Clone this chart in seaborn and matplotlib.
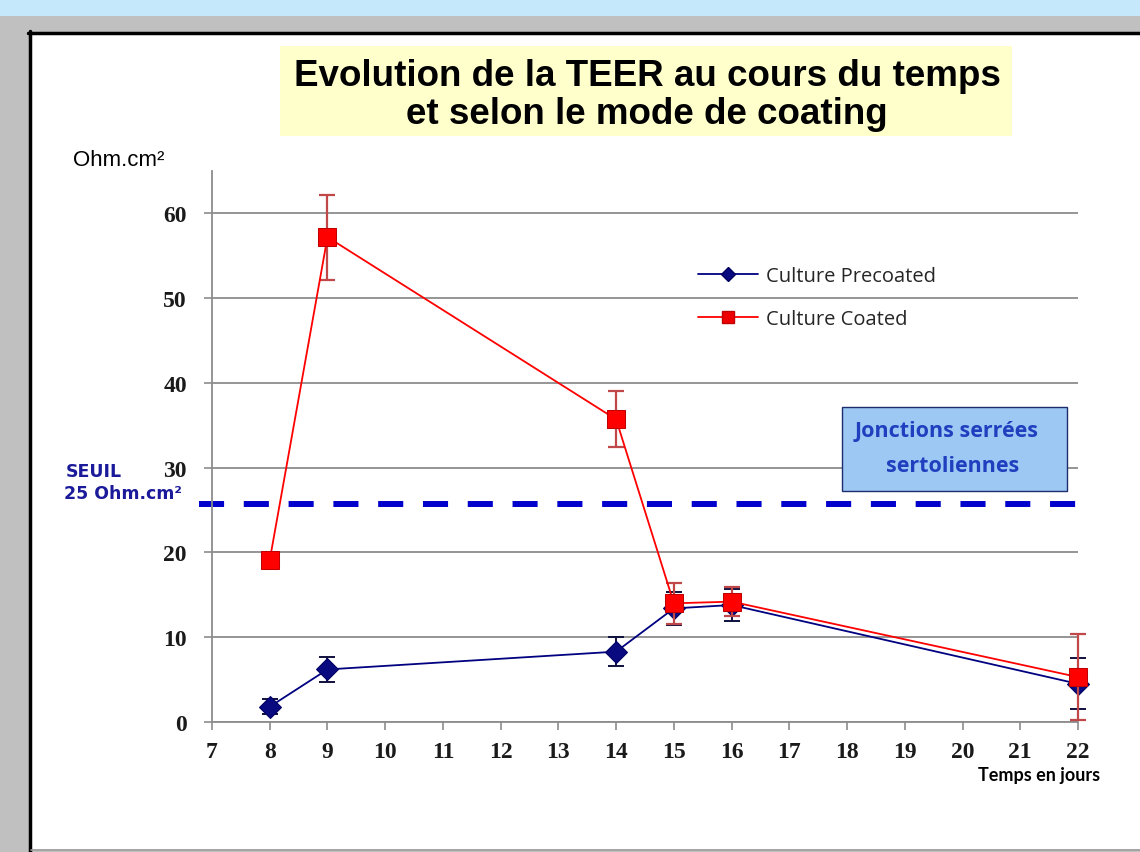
import matplotlib
matplotlib.use("Agg")
import matplotlib.pyplot as plt
from matplotlib.patches import Rectangle
from matplotlib.lines import Line2D
import seaborn as sns
import pandas as pd

# Data (TEER in Ohm.cm2 per day)
days = [8, 9, 14, 15, 16, 22]
precoated = [1.8, 6.2, 8.3, 13.4, 13.8, 4.5]
precoated_err = [0.9, 1.5, 1.7, 1.9, 1.9, 3.0]
coated = [19.1, 57.2, 35.7, 14.0, 14.2, 5.3]
coated_err = [0.0, 5.0, 3.3, 2.4, 1.7, 5.1]
seuil = 25.7
x_ticks = list(range(7, 23))
y_ticks = [0, 10, 20, 30, 40, 50, 60]
series_names = ["Culture Precoated", "Culture Coated"]

W, H = 1140, 853


def fx(px):
    return px / W


def fy(py):
    return 1 - py / H


sns.set_style("white")
plt.rcParams["font.family"] = ["Liberation Sans", "DejaVu Sans"]

fig = plt.figure(figsize=(W / 100, H / 100), dpi=100, facecolor="#c0c0c0")

# Slide background: light blue band, white panel with black border
fig.patches.append(Rectangle((0, fy(17)), 1, 17 / H, transform=fig.transFigure,
                             facecolor="#c6e8fb", edgecolor="none", zorder=-3))
fig.patches.append(Rectangle((fx(29), fy(850)), 1, (850 - 33) / H, transform=fig.transFigure,
                             facecolor="white", edgecolor="none", zorder=-3))
fig.lines.append(Line2D([fx(29.5), fx(29.5)], [fy(32), fy(853)], transform=fig.transFigure,
                        color="black", lw=2.5, zorder=-2))
fig.lines.append(Line2D([fx(28), 1], [fy(33.5), fy(33.5)], transform=fig.transFigure,
                        color="black", lw=2.5, zorder=-2))
fig.lines.append(Line2D([fx(31), 1], [fy(850.5), fy(850.5)], transform=fig.transFigure,
                        color="#a0a0a0", lw=1.2, zorder=-2))

# Title box
fig.patches.append(Rectangle((fx(280), fy(137)), fx(1012 - 280), (137 - 47) / H,
                             transform=fig.transFigure, facecolor="#ffffcc",
                             edgecolor="none", zorder=-2))
fig.text(fx(647), fy(76), "Evolution de la TEER au cours du temps", ha="center", va="center",
         fontsize=26.5, fontweight="bold", color="black", zorder=2)
fig.text(fx(647), fy(114), "et selon le mode de coating", ha="center", va="center",
         fontsize=26.5, fontweight="bold", color="black", zorder=2)

ax = fig.add_axes([fx(212), fy(723), fx(1078 - 212), (723 - 172) / H])
ax.set_facecolor("none")
ax.set_zorder(1)

df = pd.DataFrame({
    "jour": days * 2,
    "teer": precoated + coated,
    "serie": [series_names[0]] * len(days) + [series_names[1]] * len(days),
})

# Precoated series
ax.errorbar(days, precoated, yerr=precoated_err, fmt="none", ecolor="#101040",
            elinewidth=1.4, capsize=6, capthick=1.4, zorder=3, clip_on=False)
sns.lineplot(data=df[df["serie"] == series_names[0]], x="jour", y="teer", ax=ax,
             color="#000080", lw=1.3, marker="D", markersize=11,
             markeredgecolor="#000060", markerfacecolor="#0a0a80", zorder=4, clip_on=False)

# Coated series
ax.errorbar(days, coated, yerr=coated_err, fmt="none", ecolor="#c04848",
            elinewidth=1.6, capsize=6, capthick=1.6, zorder=5, clip_on=False)
sns.lineplot(data=df[df["serie"] == series_names[1]], x="jour", y="teer", ax=ax,
             color="#ff0000", lw=1.3, marker="s", markersize=13,
             markeredgecolor="#c00000", markerfacecolor="#ff0000", zorder=6, clip_on=False)

# Threshold line
ax.plot([6.78, 22], [seuil, seuil], color="#0000cc", lw=4.3, dashes=(4.2, 3.3),
        clip_on=False, zorder=2, solid_capstyle="butt", dash_capstyle="butt")

for coll in ax.collections:
    coll.set_clip_on(False)

ax.set_xlim(7, 22)
ax.set_ylim(0, 65)
ax.set_xticks(x_ticks)
ax.set_yticks(y_ticks)
ax.yaxis.grid(True, color="#8c8c8c", lw=1.3)
ax.xaxis.grid(False)
ax.set_axisbelow(True)
for side in ["top", "right"]:
    ax.spines[side].set_visible(False)
for side in ["left", "bottom"]:
    ax.spines[side].set_color("#8c8c8c")
    ax.spines[side].set_linewidth(1.3)
ax.tick_params(axis="both", direction="out", length=6, width=1.2, color="#8c8c8c",
               left=True, bottom=True)
ax.tick_params(axis="x", pad=8)
ax.tick_params(axis="y", pad=12)
for lab in ax.get_xticklabels() + ax.get_yticklabels():
    lab.set_fontfamily("Liberation Serif")
    lab.set_fontsize(17)
    lab.set_fontweight("bold")
    lab.set_color("#1a1a1a")
ax.set_xlabel("")
ax.set_ylabel("")

# Legend
handles = [
    Line2D([], [], color="#000080", lw=1.3, marker="D", markersize=7,
           markerfacecolor="#0a0a80", markeredgecolor="#000060"),
    Line2D([], [], color="#ff0000", lw=1.3, marker="s", markersize=8,
           markerfacecolor="#ee0000", markeredgecolor="#c00000"),
]
fig.legend(handles, series_names, loc="upper left", bbox_to_anchor=(fx(698), fy(267)),
           frameon=False, borderpad=0, borderaxespad=0, handlelength=3.0,
           handletextpad=0.4, labelspacing=1.15,
           prop={"family": "Open Sans", "size": 14.5})

# Axis texts
fig.text(fx(73), fy(160), "Ohm.cm²", ha="left", va="center", fontsize=16, color="black")
fig.text(fx(1100), fy(776), "Temps en jours", ha="right", va="center", fontsize=13,
         fontweight="bold", family="Lato", color="black")
fig.text(fx(66), fy(472), "SEUIL", ha="left", va="center", fontsize=12.5,
         fontweight="bold", family="DejaVu Sans", color="#1a1a9a")
fig.text(fx(64), fy(494), "25 Ohm.cm²", ha="left", va="center", fontsize=12.5,
         fontweight="bold", family="DejaVu Sans", color="#1a1a9a")

# "Jonctions serrées sertoliennes" box
fig.patches.append(Rectangle((fx(842), fy(492)), fx(1067 - 842), (492 - 408) / H,
                             transform=fig.transFigure, facecolor="#9dc8f4",
                             edgecolor="#1c2c6c", lw=1.0, zorder=3))
fig.text(fx(947), fy(432), "Jonctions serrées", ha="center", va="center", fontsize=15.5,
         fontweight="bold", family="Open Sans", color="#1f3fbf", zorder=4)
fig.text(fx(953), fy(467), "sertoliennes", ha="center", va="center", fontsize=15.5,
         fontweight="bold", family="Open Sans", color="#1f3fbf", zorder=4)

fig.savefig("out.png", dpi=100, facecolor=fig.get_facecolor())
